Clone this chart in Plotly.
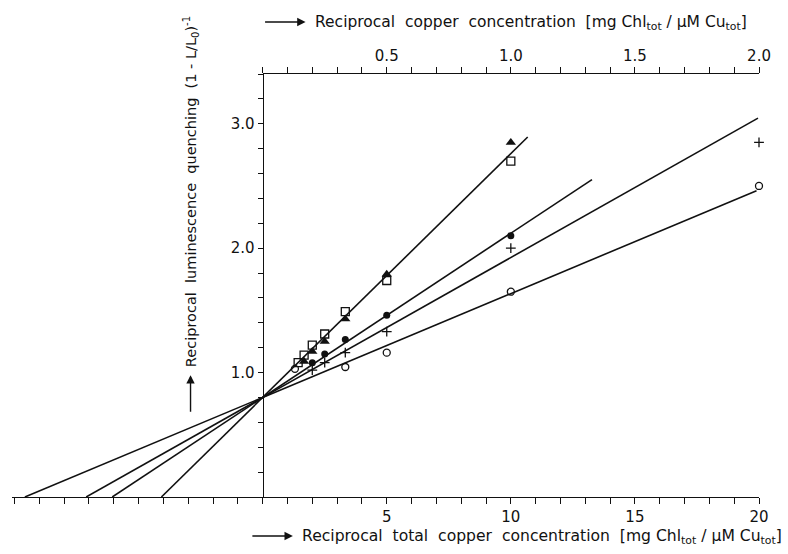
import plotly.graph_objects as go

# ---------------- data ----------------
# fit lines (common intercept, one slope each) and x-extent of each drawn line
line_names = ["open circles", "plus", "filled circles", "triangles/squares"]
line_intercept = 0.8
line_slopes = [0.0835, 0.1125, 0.132, 0.196]
line_x_start = [-9.58, -7.11, -6.06, -4.08]
line_x_end = [19.9, 19.96, 13.27, 10.68]

sq_x = [1.43, 1.67, 2.0, 2.5, 3.33, 5.0, 10.0]
sq_y = [1.08, 1.14, 1.22, 1.31, 1.49, 1.74, 2.70]

tri_x = [1.67, 2.0, 2.5, 3.33, 5.0, 10.0]
tri_y = [1.09, 1.17, 1.25, 1.43, 1.79, 2.85]

fc_x = [2.0, 2.5, 3.33, 5.0, 10.0]
fc_y = [1.08, 1.15, 1.265, 1.46, 2.10]

plus_x = [2.0, 2.5, 3.33, 5.0, 10.0, 20.0]
plus_y = [1.02, 1.08, 1.16, 1.33, 2.00, 2.85]

oc_x = [1.3, 3.33, 5.0, 10.0, 20.0]
oc_y = [1.03, 1.045, 1.16, 1.65, 2.50]

x_bottom_ticks = list(range(-10, 21))
x_bottom_labels = {5: "5", 10: "10", 15: "15", 20: "20"}
x_top_ticks = [round(i * 0.1, 1) for i in range(0, 21)]
x_top_labels = {0.5: "0.5", 1.0: "1.0", 1.5: "1.5", 2.0: "2.0"}
y_ticks = [round(i * 0.2, 1) for i in range(0, 18)]
y_labels = {1.0: "1.0", 2.0: "2.0", 3.0: "3.0"}

X_MIN, X_MAX = -10.1, 20.0
Y_MIN, Y_MAX = 0.0, 3.4

FONT = "DejaVu Sans"
BLACK = "#111111"

fig = go.Figure()

for b, xs, xe in zip(line_slopes, line_x_start, line_x_end):
    fig.add_trace(go.Scatter(
        x=[xs, xe], y=[line_intercept + b * xs, line_intercept + b * xe],
        mode="lines", line=dict(color=BLACK, width=1.6),
        showlegend=False, hoverinfo="skip", cliponaxis=False))

fig.add_trace(go.Scatter(x=oc_x, y=oc_y, mode="markers", showlegend=False, cliponaxis=False,
                         marker=dict(symbol="circle-open", size=7, color=BLACK,
                                     line=dict(width=1.3, color=BLACK))))
fig.add_trace(go.Scatter(x=plus_x, y=plus_y, mode="markers", showlegend=False, cliponaxis=False,
                         marker=dict(symbol="cross-thin-open", size=7, color=BLACK,
                                     line=dict(width=1.3, color=BLACK))))
fig.add_trace(go.Scatter(x=fc_x, y=fc_y, mode="markers", showlegend=False,
                         marker=dict(symbol="circle", size=7, color=BLACK)))
fig.add_trace(go.Scatter(x=sq_x, y=sq_y, mode="markers", showlegend=False,
                         marker=dict(symbol="square-open", size=8, color=BLACK,
                                     line=dict(width=1.3, color=BLACK))))
fig.add_trace(go.Scatter(x=tri_x, y=tri_y, mode="markers", showlegend=False,
                         marker=dict(symbol="triangle-up", size=9, color=BLACK)))

# dummy trace so the top axis subplot exists
fig.add_trace(go.Scatter(x=[0, 2], y=[None, None], xaxis="x2", yaxis="y",
                         mode="markers", showlegend=False, hoverinfo="skip"))

y_pos = (0 - X_MIN) / (X_MAX - X_MIN)

fig.update_layout(
    width=788, height=554,
    margin=dict(l=12, r=29, t=74, b=57, autoexpand=False),
    paper_bgcolor="white", plot_bgcolor="rgba(0,0,0,0)",
    font=dict(family=FONT, size=15, color=BLACK),
    hovermode=False,
    xaxis=dict(range=[X_MIN, X_MAX], domain=[0, 1], anchor="y", automargin=False,
               showgrid=False, zeroline=False,
               showline=True, linecolor=BLACK, linewidth=1.3,
               ticks="outside", ticklen=6, tickwidth=1, tickcolor=BLACK,
               tickmode="array", tickvals=x_bottom_ticks,
               ticktext=[x_bottom_labels.get(v, "") for v in x_bottom_ticks],
               tickfont=dict(size=15)),
    xaxis2=dict(range=[0, 2.0], domain=[y_pos, 1], anchor="y", side="top", automargin=False,
                showgrid=False, zeroline=False,
                showline=True, linecolor=BLACK, linewidth=1.3,
                ticks="outside", ticklen=6, tickwidth=1, tickcolor=BLACK,
                tickmode="array", tickvals=x_top_ticks,
                ticktext=[x_top_labels.get(v, "") for v in x_top_ticks],
                tickfont=dict(size=15)),
    yaxis=dict(range=[Y_MIN, Y_MAX], domain=[0, 1], anchor="free", position=y_pos,
               automargin=False,
               showgrid=False, zeroline=False,
               showline=True, linecolor=BLACK, linewidth=1.3,
               ticks="outside", ticklen=5, tickwidth=1, tickcolor=BLACK,
               tickmode="array", tickvals=y_ticks,
               ticktext=[y_labels.get(v, "") for v in y_ticks],
               tickfont=dict(size=15)),
)

# axis titles with arrows
fig.add_annotation(xref="paper", yref="paper", x=0.403, y=1.0, yshift=51,
                   text="Reciprocal  copper  concentration  [mg Chl<sub>tot</sub> / µM Cu<sub>tot</sub>]",
                   showarrow=False, xanchor="left", yanchor="middle",
                   font=dict(size=15.5))
fig.add_annotation(xref="paper", yref="paper", x=0.393, y=1.0, yshift=52,
                   ax=-42, ay=0, text="", showarrow=True,
                   arrowhead=2, arrowsize=1.2, arrowwidth=1.4, arrowcolor=BLACK)

fig.add_annotation(xref="paper", yref="paper", x=0.386, y=0.0, yshift=-40,
                   text="Reciprocal  total  copper  concentration  [mg Chl<sub>tot</sub> / µM Cu<sub>tot</sub>]",
                   showarrow=False, xanchor="left", yanchor="middle",
                   font=dict(size=15.6))
fig.add_annotation(xref="paper", yref="paper", x=0.376, y=0.0, yshift=-39,
                   ax=-42, ay=0, text="", showarrow=True,
                   arrowhead=2, arrowsize=1.2, arrowwidth=1.4, arrowcolor=BLACK)

fig.add_annotation(xref="paper", yref="paper", x=0.239, y=0.722,
                   text="Reciprocal  luminescence  quenching  (1 - L/L<sub>0</sub>)<sup>-1</sup>",
                   showarrow=False, textangle=-90, xanchor="center", yanchor="middle",
                   font=dict(size=14.5))
fig.add_annotation(xref="paper", yref="paper", x=0.239, y=0.288,
                   ax=0, ay=38, text="", showarrow=True,
                   arrowhead=2, arrowsize=1.2, arrowwidth=1.4, arrowcolor=BLACK)

fig.write_html("out.html",
               config={"displayModeBar": False, "staticPlot": True},
               post_script="document.body.style.margin='0px';document.body.style.overflow='hidden';")
